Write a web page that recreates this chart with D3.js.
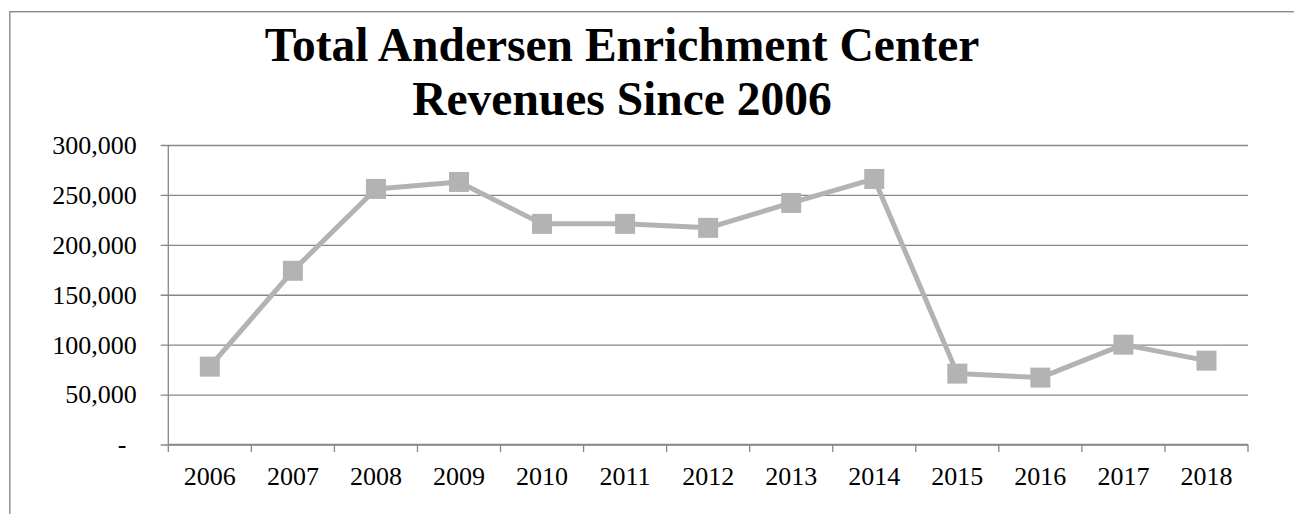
<!DOCTYPE html>
<html>
<head>
<meta charset="utf-8">
<script src="https://cdn.jsdelivr.net/npm/d3@7/dist/d3.min.js"></script>
<style>
  html, body { margin: 0; padding: 0; background: #fff; }
  svg { display: block; }
  text { font-family: "Liberation Serif", "Times New Roman", serif; fill: #000; }
</style>
</head>
<body>
<svg id="chart" width="1294" height="514"></svg>
<script>
// Annual revenue of the Andersen Enrichment Center
const years = ["2006", "2007", "2008", "2009", "2010", "2011", "2012",
               "2013", "2014", "2015", "2016", "2017", "2018"];
const revenues = [78000, 174000, 256000, 263000, 221000, 221000, 217000,
                  242000, 266000, 71000, 67000, 100000, 84000];
const yTicks = [0, 50000, 100000, 150000, 200000, 250000, 300000];
const yTickLabels = ["-", "50,000", "100,000", "150,000", "200,000", "250,000", "300,000"];
const titleLines = ["Total Andersen Enrichment Center", "Revenues Since 2006"];

const svg = d3.select("#chart");
const W = 1294, H = 514;
const plot = { left: 168.3, right: 1248, top: 145, bottom: 444.5 };
const gridColor = "#878787";
const seriesColor = "#b3b3b3";

// Chart area border (extends past the right and bottom edges of the page)
svg.append("rect")
  .attr("x", 9.8).attr("y", 11.7)
  .attr("width", W + 20).attr("height", H + 20)
  .attr("fill", "none")
  .attr("stroke", "#8a8a8a")
  .attr("stroke-width", 1.4);

// Title
svg.append("g")
  .selectAll("text")
  .data(titleLines)
  .join("text")
  .attr("x", 622)
  .attr("y", (d, i) => 61 + i * 54)
  .attr("text-anchor", "middle")
  .attr("font-size", "47.5px")
  .attr("font-weight", "bold")
  .text(d => d);

const x = d3.scaleBand().domain(years).range([plot.left, plot.right]).padding(0);
const y = d3.scaleLinear().domain([0, 300000]).range([plot.bottom, plot.top]);

// Horizontal gridlines with short ticks to the left of the value axis
const yAxis = d3.axisLeft(y)
  .tickValues(yTicks)
  .tickSize(-(plot.right - plot.left))
  .tickFormat("");
const yg = svg.append("g")
  .attr("transform", `translate(${plot.left},0)`)
  .call(yAxis);
yg.select(".domain").remove();
yg.selectAll(".tick line")
  .attr("x1", -7.6)
  .attr("stroke", gridColor)
  .attr("stroke-width", 1.3);

// Value axis line
svg.append("line")
  .attr("x1", plot.left).attr("x2", plot.left)
  .attr("y1", plot.top).attr("y2", plot.bottom)
  .attr("stroke", gridColor).attr("stroke-width", 1.3);

// Value axis labels
svg.append("g")
  .selectAll("text")
  .data(yTicks)
  .join("text")
  .attr("x", (d, i) => yTickLabels[i] === "-" ? 126.5 : 136.7)
  .attr("y", d => y(d))
  .attr("dy", "0.34em")
  .attr("text-anchor", "end")
  .attr("font-size", "26px")
  .text((d, i) => yTickLabels[i]);

// Category axis: baseline and tick marks at category boundaries
const boundaries = years.map(d => x(d)).concat([plot.right]);
svg.append("line")
  .attr("x1", plot.left).attr("x2", plot.right)
  .attr("y1", plot.bottom).attr("y2", plot.bottom)
  .attr("stroke", gridColor).attr("stroke-width", 1.3);
svg.append("g")
  .selectAll("line")
  .data(boundaries)
  .join("line")
  .attr("x1", d => d).attr("x2", d => d)
  .attr("y1", plot.bottom).attr("y2", plot.bottom + 7.6)
  .attr("stroke", gridColor).attr("stroke-width", 1.3);

// Category labels
svg.append("g")
  .selectAll("text")
  .data(years)
  .join("text")
  .attr("x", d => x(d) + x.bandwidth() / 2)
  .attr("y", 485)
  .attr("text-anchor", "middle")
  .attr("font-size", "26px")
  .text(d => d);

// Revenue line
const points = years.map((d, i) => ({ year: d, value: revenues[i] }));
const line = d3.line()
  .x(d => x(d.year) + x.bandwidth() / 2)
  .y(d => y(d.value));
svg.append("path")
  .datum(points)
  .attr("d", line)
  .attr("fill", "none")
  .attr("stroke", seriesColor)
  .attr("stroke-width", 5)
  .attr("stroke-linejoin", "round");

// Square markers
const ms = 20;
svg.append("g")
  .selectAll("rect")
  .data(points)
  .join("rect")
  .attr("x", d => x(d.year) + x.bandwidth() / 2 - ms / 2)
  .attr("y", d => y(d.value) - ms / 2)
  .attr("width", ms)
  .attr("height", ms)
  .attr("fill", seriesColor);
</script>
</body>
</html>
